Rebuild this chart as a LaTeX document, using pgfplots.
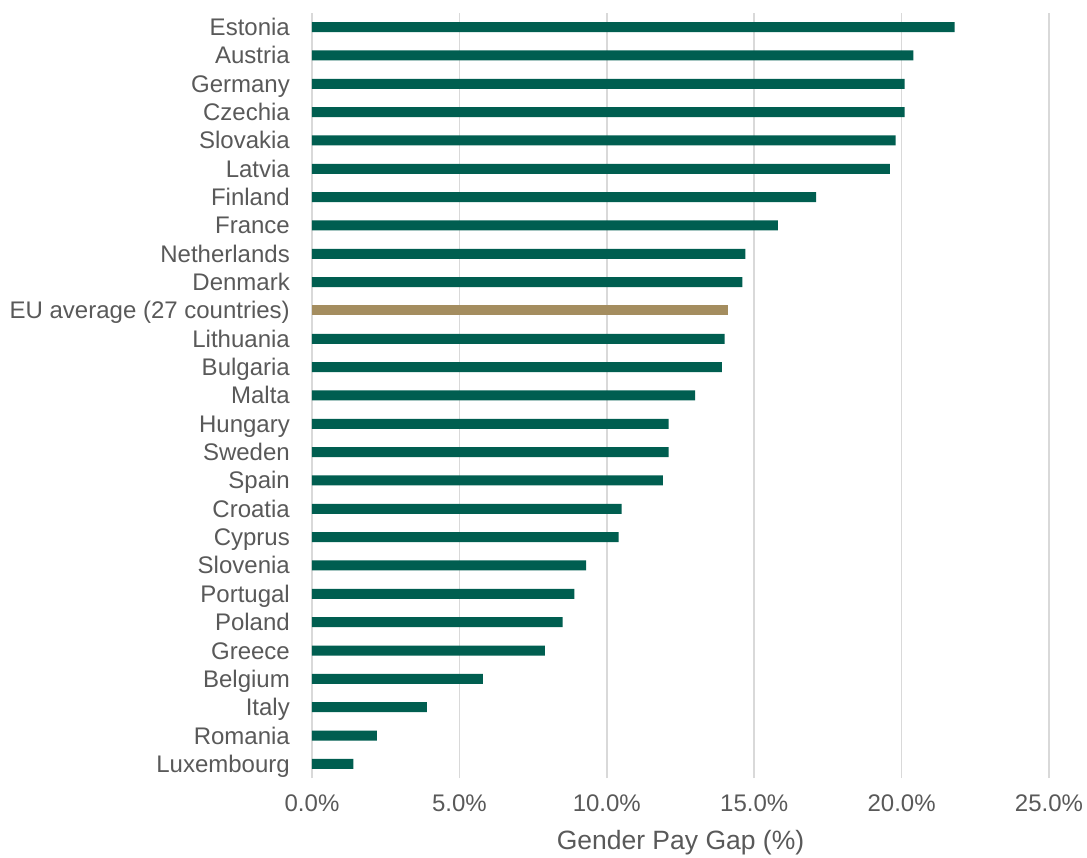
\documentclass[border=0pt]{standalone}
\usepackage{fontspec}
\setmainfont{Liberation Sans}
\usepackage{pgfplots}
\usepackage{pgfplotstable}
\pgfplotsset{compat=1.18}
\definecolor{barg}{HTML}{005E50}
\definecolor{bargold}{HTML}{A48D5F}
\definecolor{txt}{HTML}{595959}
\definecolor{gridc}{HTML}{D9D9D9}
\pgfplotstableread{
idx val
0 1.4
1 2.2
2 3.9
3 5.8
4 7.9
5 8.5
6 8.9
7 9.3
8 10.4
9 10.5
10 11.9
11 12.1
12 12.1
13 13.0
14 13.9
15 14.0
17 14.6
18 14.7
19 15.8
20 17.1
21 19.6
22 19.8
23 20.1
24 20.1
25 20.4
26 21.8
}\countries
\pgfplotstableread{
idx val
16 14.1
}\euavg
\begin{document}
\begin{tikzpicture}[x=1pt,y=1pt]
\useasboundingbox (0,0) rectangle (1087,857);
\begin{axis}[
  at={(312pt,79pt)}, anchor=south west,
  scale only axis, width=737pt, height=765pt,
  xbar, bar width=10pt, bar shift=0pt,
  xmin=0, xmax=25, ymin=-0.5, ymax=26.5,
  xtick={0,5,10,15,20,25},
  xticklabels={0.0\%,5.0\%,10.0\%,15.0\%,20.0\%,25.0\%},
  ytick={0,...,26},
  yticklabels={Luxembourg,Romania,Italy,Belgium,Greece,Poland,Portugal,Slovenia,Cyprus,Croatia,Spain,Sweden,Hungary,Malta,Bulgaria,Lithuania,EU average (27 countries),Denmark,Netherlands,France,Finland,Latvia,Slovakia,Czechia,Germany,Austria,Estonia},
  axis line style={draw=none},
  major tick length=0pt,
  xmajorgrids,
  grid style={draw=gridc, line width=1.5pt},
  ticklabel style={font=\fontsize{24}{28}\selectfont, text=txt, inner sep=0pt, text height=17pt, text depth=0pt},
  xticklabel style={anchor=center, yshift=-25pt},
  yticklabel style={anchor=east, xshift=-22pt},
  xlabel={Gender Pay Gap (\%)},
  xlabel style={at={(axis description cs:0.5,0)}, anchor=center, yshift=-65pt, font=\fontsize{26.5}{30}\selectfont, text=txt, inner sep=0pt},
]
\addplot[draw=none, fill=barg] table[x=val, y=idx] {\countries};
\addplot[draw=none, fill=bargold] table[x=val, y=idx] {\euavg};
\end{axis}
\end{tikzpicture}
\end{document}
